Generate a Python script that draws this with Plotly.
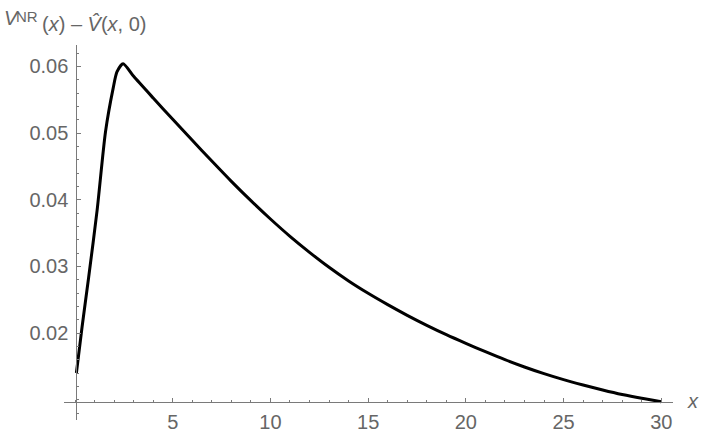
import plotly.graph_objects as go

# data
x_vals = [0.07, 0.36, 0.70, 1.13, 1.56, 1.95, 2.15, 2.46, 3.0, 4.0, 5.0, 6.0, 7.0,
          8.0, 9.0, 10.0, 11.0, 12.0, 13.0, 14.0, 15.0, 16.0, 17.0, 18.0, 19.0,
          20.0, 21.0, 22.0, 23.0, 24.0, 25.0, 26.0, 27.0, 28.0, 29.0, 30.0]
y_vals = [0.0140, 0.0209, 0.0284, 0.0384, 0.0502, 0.0567, 0.0592, 0.0604, 0.0585,
          0.05525, 0.05205, 0.0489, 0.0458, 0.04275, 0.03985, 0.0371, 0.0345,
          0.0321, 0.02985, 0.0278, 0.02595, 0.02425, 0.02265, 0.02115, 0.01975,
          0.01845, 0.0172, 0.0160, 0.0149, 0.0139, 0.0130, 0.0122, 0.01145,
          0.01077, 0.0102, 0.0097]
x_ticks = [5, 10, 15, 20, 25, 30]
y_ticks = [0.02, 0.03, 0.04, 0.05, 0.06]
y_tick_labels = ["0.02", "0.03", "0.04", "0.05", "0.06"]

x_range = [-0.564, 30.60]
y_range = [0.00695, 0.0632]
origin = (0.07, 0.0097)

FONT = "Liberation Sans"
TXT = "#666666"
AX = "#7a7a7a"
FS = 20

L, R, T, B = 64, 28, 45, 12
W, H = 701, 432
PW, PH = W - L - R, H - T - B


def px(xp):
    return (xp - L) / PW


def py(yp):
    return (H - B - yp) / PH


fig = go.Figure()
fig.add_trace(go.Scatter(
    x=x_vals, y=y_vals, mode="lines",
    line=dict(color="black", width=3, shape="spline", smoothing=0.7),
    hoverinfo="skip", showlegend=False,
))

xpos = (origin[1] - y_range[0]) / (y_range[1] - y_range[0])
ypos = (origin[0] - x_range[0]) / (x_range[1] - x_range[0])

fig.update_layout(
    width=W, height=H,
    margin=dict(l=L, r=R, t=T, b=B, autoexpand=False),
    paper_bgcolor="white", plot_bgcolor="white",
    font=dict(family=FONT, size=FS, color=TXT),
    xaxis=dict(
        range=x_range, anchor="free", position=xpos, automargin=False,
        showgrid=False, zeroline=False, showline=True, linecolor=AX, linewidth=1,
        tickmode="array", tickvals=x_ticks, ticktext=[str(t) for t in x_ticks],
        ticks="inside", ticklen=4, tickcolor=AX, tickwidth=1,
        ticklabelstandoff=2,
        minor=dict(dtick=1, tick0=0, ticks="inside", ticklen=2, tickcolor=AX, tickwidth=1, showgrid=False),
        tickfont=dict(family=FONT, size=FS, color=TXT),
    ),
    yaxis=dict(
        range=y_range, anchor="free", position=ypos, automargin=False,
        showgrid=False, zeroline=False, showline=True, linecolor=AX, linewidth=1,
        tickmode="array", tickvals=y_ticks, ticktext=y_tick_labels,
        ticks="inside", ticklen=4, tickcolor=AX, tickwidth=1,
        ticklabelstandoff=4,
        minor=dict(dtick=0.002, tick0=0, ticks="inside", ticklen=2, tickcolor=AX, tickwidth=1, showgrid=False),
        tickfont=dict(family=FONT, size=FS, color=TXT),
    ),
    annotations=[
        dict(text="<i>V</i>", xref="paper", yref="paper", x=px(2), y=py(18),
             xanchor="left", yanchor="middle", showarrow=False,
             font=dict(family=FONT, size=FS, color=TXT)),
        dict(text="NR", xref="paper", yref="paper", x=px(14), y=py(16.5),
             xanchor="left", yanchor="middle", showarrow=False,
             font=dict(family=FONT, size=15, color=TXT)),
        dict(text="(<i>x</i>) \u2013 <i>V\u0302</i>(<i>x</i>, 0)",
             xref="paper", yref="paper", x=px(40), y=py(24),
             xanchor="left", yanchor="middle", showarrow=False,
             font=dict(family=FONT, size=FS, color=TXT)),
        dict(text="<i>x</i>", xref="paper", yref="paper",
             x=px(685), y=py(401),
             xanchor="left", yanchor="middle", showarrow=False,
             font=dict(family=FONT, size=FS, color=TXT)),
    ],
)

fig.write_html("out.html", config={"displayModeBar": False},
               post_script="document.body.style.margin='0';document.body.style.padding='0';")
